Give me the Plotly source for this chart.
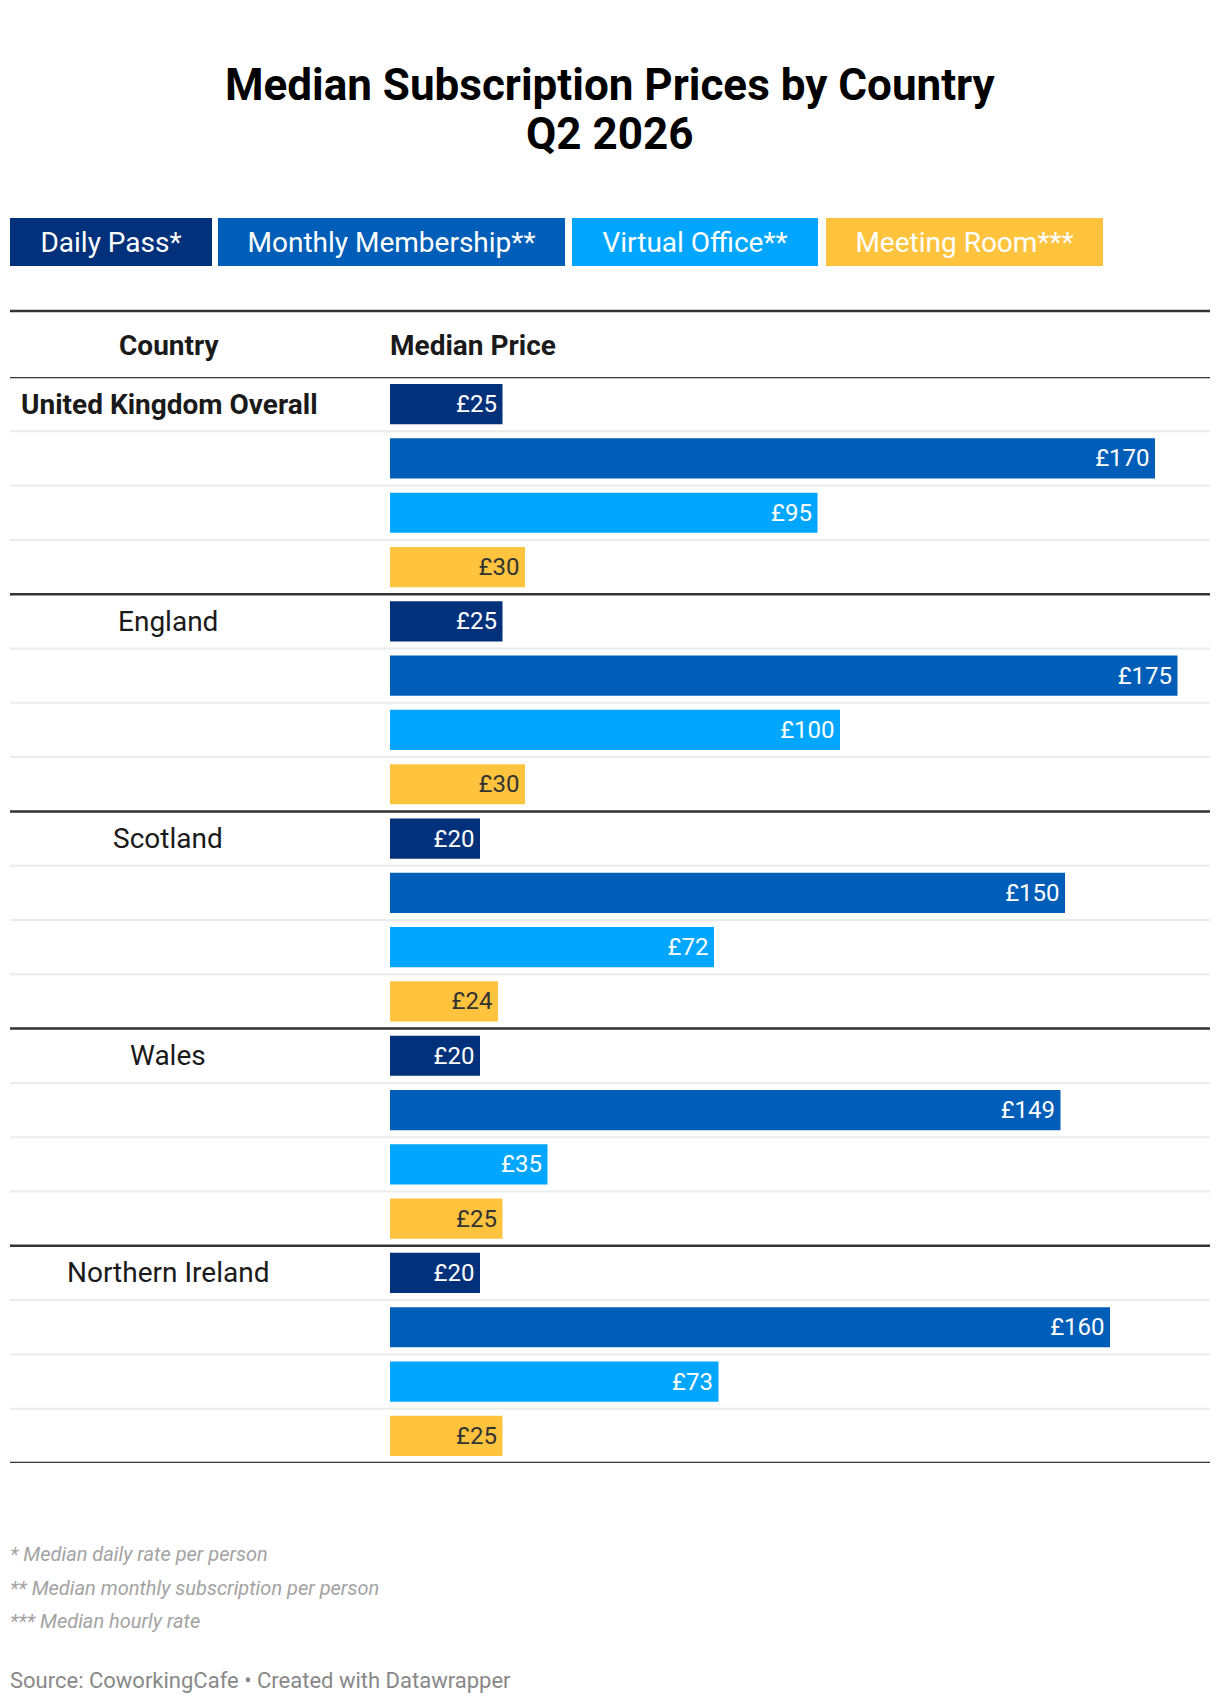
import plotly.graph_objects as go

# median prices in GBP
countries = ["United Kingdom Overall", "England", "Scotland", "Wales", "Northern Ireland"]
daily_pass = [25, 25, 20, 20, 20]
monthly_membership = [170, 175, 150, 149, 160]
virtual_office = [95, 100, 72, 35, 73]
meeting_room = [30, 30, 24, 25, 25]

products = ["Daily Pass*", "Monthly Membership**", "Virtual Office**", "Meeting Room***"]
product_values = [daily_pass, monthly_membership, virtual_office, meeting_room]
colors = ["#01317a", "#005eb8", "#00a6ff", "#ffc33d"]
label_colors = ["white", "white", "white", "#333333"]

title_lines = ["Median Subscription Prices by Country", "Q2 2026"]
footnotes = [
    "* Median daily rate per person",
    "** Median monthly subscription per person",
    "*** Median hourly rate",
]
source = "Source: CoworkingCafe • Created with Datawrapper"

W, H = 1220, 1704
OX, OY = 8, 8  # the page body adds an 8px margin, pull everything back by that
FONT = "Roboto"
n_prod = len(products)
n_rows = len(countries) * n_prod


def px_x(x):
    return (x - OX) / W


def px_y(y):
    return 1 - (y - OY) / H


fig = go.Figure()

for k, (name, vals) in enumerate(zip(products, product_values)):
    rows = [g * n_prod + k for g in range(len(countries))]
    fig.add_trace(go.Bar(
        x=vals, y=rows, orientation="h", name=name,
        marker=dict(color=colors[k], line=dict(width=0)),
        width=0.74,
        texttemplate="£%{x}\u200a", textposition="inside", insidetextanchor="end",
        textangle=0,
        textfont=dict(family=FONT, size=24, color=label_colors[k]),
        hoverinfo="skip", showlegend=False,
    ))

shapes = []
# top rule above the header
shapes.append(dict(type="line", xref="paper", yref="paper", x0=px_x(10), x1=px_x(1210),
                   y0=px_y(311), y1=px_y(311), line=dict(color="#333333", width=2.5)))
for b in range(n_rows + 1):
    thick = b % n_prod == 0
    shapes.append(dict(type="line", xref="paper", yref="y", x0=px_x(10), x1=px_x(1210),
                       y0=b - 0.5, y1=b - 0.5, layer="below",
                       line=dict(color="#333333" if thick else "#ebebeb", width=2.5 if thick else 2)))

annotations = []
# title, one annotation per line to control the line gap
for i, line in enumerate(title_lines):
    annotations.append(dict(
        text=f"<b>{line}</b>", xref="paper", yref="paper", x=px_x(610), y=px_y(85 + 49 * i),
        xanchor="center", yanchor="middle", showarrow=False,
        font=dict(family=FONT, size=44, color="#000000")))

# legend chips
chip_x = [10, 218, 572, 826]
chip_w = [202, 347, 246, 277]
for name, c, x0, w in zip(products, colors, chip_x, chip_w):
    annotations.append(dict(
        text=name, xref="paper", yref="paper", x=px_x(x0), y=px_y(242),
        xanchor="left", yanchor="middle", showarrow=False,
        width=w, height=48, bgcolor=c, borderpad=0, borderwidth=0, align="center",
        font=dict(family=FONT, size=28, color="white")))

# header
annotations.append(dict(text="<b>Country</b>", xref="paper", yref="paper", x=px_x(169), y=px_y(345),
                        xanchor="center", yanchor="middle", showarrow=False,
                        font=dict(family=FONT, size=28, color="#1a1a1a")))
annotations.append(dict(text="<b>Median Price</b>", xref="paper", yref="paper", x=px_x(388), y=px_y(345),
                        xanchor="left", yanchor="middle", showarrow=False,
                        font=dict(family=FONT, size=28, color="#1a1a1a")))

# country labels
for g, name in enumerate(countries):
    if g == 0:
        annotations.append(dict(text=f"<b>{name}</b>", xref="paper", yref="y", x=px_x(19), y=0,
                                xanchor="left", yanchor="middle", showarrow=False,
                                font=dict(family=FONT, size=28, color="#1a1a1a")))
    else:
        annotations.append(dict(text=name, xref="paper", yref="y", x=px_x(168), y=g * n_prod,
                                xanchor="center", yanchor="middle", showarrow=False,
                                font=dict(family=FONT, size=28, color="#1a1a1a")))

# footnotes and source
for i, note in enumerate(footnotes):
    annotations.append(dict(text=f"<i>{note}</i>", xref="paper", yref="paper", x=px_x(8),
                            y=px_y(1554 + 33.5 * i), xanchor="left", yanchor="middle", showarrow=False,
                            font=dict(family=FONT, size=20, color="#a3a3a3")))
annotations.append(dict(text=source, xref="paper", yref="paper", x=px_x(8), y=px_y(1680),
                        xanchor="left", yanchor="middle", showarrow=False,
                        font=dict(family=FONT, size=22, color="#888888")))

bar_x0 = 390
px_per_pound = 4.5
fig.update_layout(
    width=W, height=H,
    margin=dict(l=0, r=0, t=0, b=0),
    paper_bgcolor="white", plot_bgcolor="white",
    barmode="overlay",
    uniformtext=dict(minsize=24, mode="show"),
    xaxis=dict(domain=[px_x(bar_x0), px_x(1210)], range=[0, (1210 - bar_x0) / px_per_pound],
               visible=False, fixedrange=True),
    yaxis=dict(domain=[px_y(1463), px_y(377)], range=[n_rows - 0.5, -0.5],
               visible=False, fixedrange=True),
    shapes=shapes,
    annotations=annotations,
    font=dict(family=FONT),
)

fig.write_html("out.html")
